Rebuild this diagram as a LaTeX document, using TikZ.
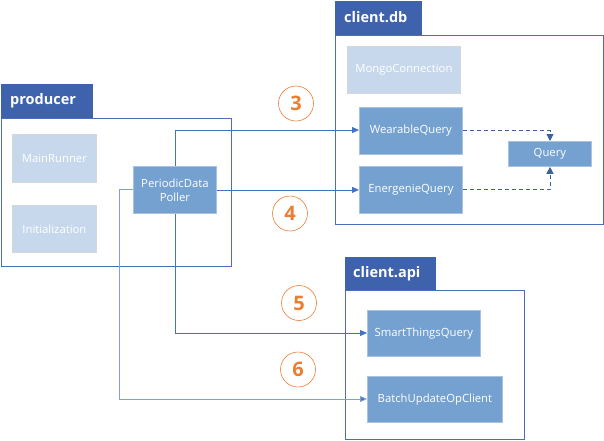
\documentclass[tikz,border=0pt]{standalone}
\usepackage{fontspec}
\setmainfont{Open Sans}
\usetikzlibrary{arrows.meta,positioning}
\definecolor{tabblue}{HTML}{3F62AD}
\definecolor{framblue}{HTML}{4A6FB8}
\definecolor{midbox}{HTML}{75A1D0}
\definecolor{midedge}{HTML}{A9C2E2}
\definecolor{lightbox}{HTML}{C7D8EC}
\definecolor{lightedge}{HTML}{D4D8DE}
\definecolor{conn}{HTML}{4472C4}
\definecolor{connlight}{HTML}{7F9FD9}
\definecolor{dashc}{HTML}{3A619E}
\definecolor{orng}{HTML}{ED7D31}
\tikzset{
  tabbox/.style={fill=tabblue,draw=tabblue,inner sep=0pt},
  tabtext/.style={text=white,font=\bfseries\fontsize{14.5}{16}\selectfont,inner sep=0pt},
  frambox/.style={draw=framblue,line width=0.9pt,fill=none},
  lightcls/.style={fill=lightbox,draw=lightedge,line width=0.8pt,text=white,font=\fontsize{11.3}{13}\selectfont,inner sep=0pt,align=center},
  midcls/.style={fill=midbox,draw=midedge,line width=0.8pt,text=white,font=\fontsize{11.3}{13}\selectfont,inner sep=0pt,align=center},
  flow/.style={draw=conn,line width=0.8pt,-{Triangle[length=7pt,width=6pt]}},
  flowlight/.style={draw=connlight,line width=0.8pt,-{Triangle[length=7pt,width=6pt,fill=conn]}},
  dep/.style={draw=dashc,line width=0.9pt,dash pattern=on 4pt off 3pt,-{Triangle[length=7pt,width=7pt]}},
  stepnum/.style={circle,draw=orng,line width=0.6pt,minimum size=35pt,inner sep=0pt,text=orng,font=\bfseries\fontsize{20}{22}\selectfont}
}
\begin{document}
\begin{tikzpicture}[x=1pt,y=-1pt]
\useasboundingbox (0,0) rectangle (604,440);
% producer
\node[tabbox,minimum width=91pt,minimum height=34pt,anchor=north west] (ptab) at (1,84) {};
\node[tabtext,anchor=west] (ptabt) at (10,101) {producer};
\node[frambox,minimum width=230pt,minimum height=148pt,anchor=north west,inner sep=0pt] (pframe) at (1,118) {};
\node[lightcls,minimum width=84pt,minimum height=48pt,anchor=north west] (mainr) at (12,134) {MainRunner};
\node[lightcls,minimum width=84pt,minimum height=47pt,anchor=north west] (init) at (12,205) {Initialization};
\node[midcls,minimum width=83pt,minimum height=47pt,anchor=north west] (pdp) at (133,166) {PeriodicData\\[1pt]Poller};
% client.db
\node[tabbox,minimum width=86pt,minimum height=34pt,anchor=north west] (dtab) at (335,1) {};
\node[tabtext,anchor=west] (dtabt) at (344,17.5) {client.db};
\node[frambox,minimum width=268pt,minimum height=189pt,anchor=north west,inner sep=0pt] (dframe) at (335,35) {};
\node[lightcls,minimum width=113pt,minimum height=47pt,anchor=north west] (mongo) at (347,46) {MongoConnection};
\node[midcls,minimum width=103pt,minimum height=47pt,anchor=north west] (wear) at (359,107) {WearableQuery};
\node[midcls,minimum width=103pt,minimum height=47pt,anchor=north west] (ener) at (359,166) {EnergenieQuery};
\node[midcls,minimum width=83pt,minimum height=25pt,anchor=north west] (query) at (508,141) {Query};
% client.api
\node[tabbox,minimum width=90pt,minimum height=33pt,anchor=north west] (atab) at (345,257) {};
\node[tabtext,anchor=west] (atabt) at (353,273.5) {client.api};
\node[frambox,minimum width=179pt,minimum height=149pt,anchor=north west,inner sep=0pt] (aframe) at (345,290) {};
\node[midcls,minimum width=113pt,minimum height=46pt,anchor=north west] (smart) at (367,310) {SmartThingsQuery};
\node[midcls,minimum width=135pt,minimum height=46pt,anchor=north west] (batch) at (367,376) {BatchUpdateOpClient};
% connectors
\coordinate (c3) at (175,130);
\coordinate (c5) at (175,333);
\coordinate (c6a) at (119,189.5);
\coordinate (c6b) at (119,399);
\draw[flow] (pdp.north -| c3) -- (c3) -- (c3 -| wear.west);
\draw[flow] (pdp.east |- ener.west) -- (ener.west);
\draw[flow] (pdp.south -| c5) -- (c5) -- (c5 -| smart.west);
\draw[flowlight] (pdp.west |- c6a) -- (c6a) -- (c6b) -- (c6b -| batch.west);
\coordinate (qx) at (550,0);
\draw[dep] (wear.east) -- (wear.east -| qx) -- (query.north -| qx);
\draw[dep] (ener.east) -- (ener.east -| qx) -- (query.south -| qx);
% step numbers
\node[stepnum] (n3) at (296,103.5) {3};
\node[stepnum] (n4) at (290,213.5) {4};
\node[stepnum] (n5) at (299,303) {5};
\node[stepnum] (n6) at (298,369.5) {6};
\end{tikzpicture}
\end{document}
